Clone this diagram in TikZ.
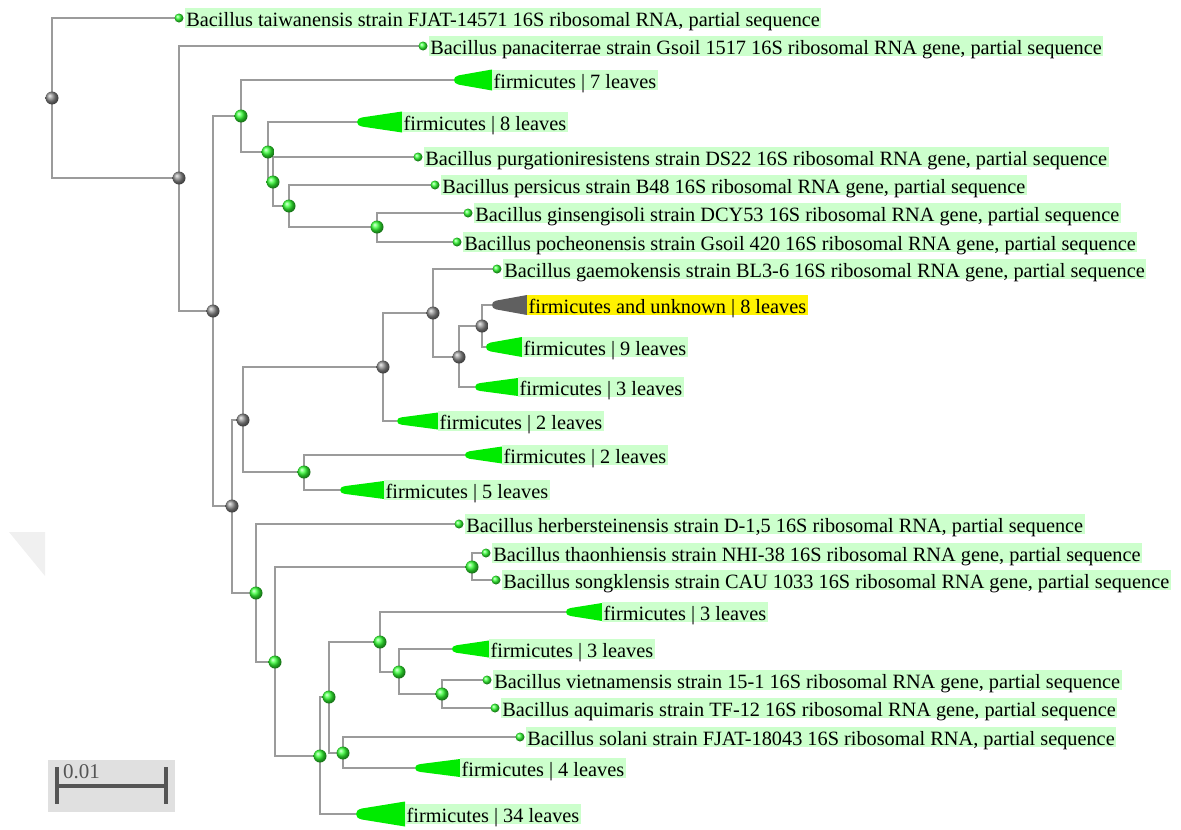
\documentclass[tikz,border=0pt]{standalone}
\usepackage{fontspec}
\setmainfont{Liberation Serif}
\usetikzlibrary{positioning, backgrounds}
\definecolor{branchgray}{RGB}{155,155,155}
\definecolor{cladegreen}{RGB}{0,235,0}
\definecolor{boxgreen}{RGB}{204,255,204}
\definecolor{unkgray}{RGB}{96,96,96}
\definecolor{scalegray}{RGB}{224,224,224}
\definecolor{bargray}{RGB}{85,85,85}
\definecolor{foldgray}{RGB}{240,240,240}
\tikzset{
x=1pt, y=-1pt, % one unit is one pixel, y grows downwards
branch/.style={draw=branchgray, line width=1.8pt}, % the lines of the tree
elbow/.style={to path={|- (\tikztotarget)}}, % down (or up) first, then across
split/.style={circle, inner sep=0pt, minimum size=13pt, shading=ball, ball color=green!80!white}, % green inner node
greysplit/.style={split, ball color=gray!90}, % grey inner node
tip/.style={circle, inner sep=0pt, minimum size=9pt, shading=ball, ball color=green!80!white}, % a single sequence
lab/.style={anchor=west, fill=boxgreen, inner xsep=1.5pt, inner ysep=2pt, text height=16pt, text depth=0pt, font=\fontsize{20.3}{24}\selectfont},
hilab/.style={lab, fill=yellow}, % the highlighted clade
pics/clade/.style n args={3}{code={
  \fill[#3] (0,0) .. controls (0,-0.12*#2) and (0.04*#1,-0.18*#2) .. (0.12*#1,-0.22*#2) -- (#1,-0.5*#2)
    -- (#1,0.5*#2) -- (0.12*#1,0.22*#2) .. controls (0.04*#1,0.18*#2) and (0,0.12*#2) .. cycle;}},
}

\begin{document}
\begin{tikzpicture}
  \useasboundingbox (0,0) rectangle (1181,830);
  \fill[foldgray] (9,532) -- (45,532) -- (45,576) -- cycle;

  % inner nodes
  \node[greysplit] (root) at (52,98) {};
  \node[greysplit] (n1) at (179,178) {};
  \node[greysplit] (n2) at (213,311) {};
  \node[split] (n3) at (241,116) {};
  \node[split] (n4) at (268,152) {};
  \node[split] (n5) at (273,182) {};
  \node[split] (n6) at (289,206) {};
  \node[split] (n7) at (377,227) {};
  \node[greysplit] (n8) at (232,506) {};
  \node[greysplit] (n9) at (243,420) {};
  \node[greysplit] (n10) at (383,367) {};
  \node[greysplit] (n11) at (433,313) {};
  \node[greysplit] (n12) at (459,357) {};
  \node[greysplit] (n13) at (482,326) {};
  \node[split] (n14) at (304,472) {};
  \node[split] (n15) at (256,593) {};
  \node[split] (n16) at (472,567) {};
  \node[split] (n17) at (275,662) {};
  \node[split] (n18) at (320,756) {};
  \node[split] (n19) at (329,697) {};
  \node[split] (n20) at (380,642) {};
  \node[split] (n21) at (399,672) {};
  \node[split] (n22) at (442,694) {};
  \node[split] (n23) at (343,753) {};

  % single sequences
  \node[tip] (taiw) at (179,18) {};
  \node[lab, right=1pt of taiw] {Bacillus taiwanensis strain FJAT-14571 16S ribosomal RNA, partial sequence};
  \node[tip] (pana) at (423,46) {};
  \node[lab, right=1pt of pana] {Bacillus panaciterrae strain Gsoil 1517 16S ribosomal RNA gene, partial sequence};
  \node[tip] (purg) at (418,157) {};
  \node[lab, right=1pt of purg] {Bacillus purgationiresistens strain DS22 16S ribosomal RNA gene, partial sequence};
  \node[tip] (pers) at (435,185) {};
  \node[lab, right=1pt of pers] {Bacillus persicus strain B48 16S ribosomal RNA gene, partial sequence};
  \node[tip] (gins) at (468,213) {};
  \node[lab, right=1pt of gins] {Bacillus ginsengisoli strain DCY53 16S ribosomal RNA gene, partial sequence};
  \node[tip] (poch) at (457,242) {};
  \node[lab, right=1pt of poch] {Bacillus pocheonensis strain Gsoil 420 16S ribosomal RNA gene, partial sequence};
  \node[tip] (gaem) at (497,269) {};
  \node[lab, right=1pt of gaem] {Bacillus gaemokensis strain BL3-6 16S ribosomal RNA gene, partial sequence};
  \node[tip] (herb) at (459,524) {};
  \node[lab, right=1pt of herb] {Bacillus herbersteinensis strain D-1,5 16S ribosomal RNA, partial sequence};
  \node[tip] (thao) at (486,553) {};
  \node[lab, right=1pt of thao] {Bacillus thaonhiensis strain NHI-38 16S ribosomal RNA gene, partial sequence};
  \node[tip] (song) at (496,580) {};
  \node[lab, right=1pt of song] {Bacillus songklensis strain CAU 1033 16S ribosomal RNA gene, partial sequence};
  \node[tip] (viet) at (487,680) {};
  \node[lab, right=1pt of viet] {Bacillus vietnamensis strain 15-1 16S ribosomal RNA gene, partial sequence};
  \node[tip] (aqui) at (495,708) {};
  \node[lab, right=1pt of aqui] {Bacillus aquimaris strain TF-12 16S ribosomal RNA gene, partial sequence};
  \node[tip] (sola) at (520,737) {};
  \node[lab, right=1pt of sola] {Bacillus solani strain FJAT-18043 16S ribosomal RNA, partial sequence};

  % collapsed clades
  \coordinate (c7) at (454,80);
  \pic at (c7) {clade={38}{21}{cladegreen}};
  \node[lab, right=38pt of c7] {firmicutes | 7 leaves};
  \coordinate (c8) at (357,122);
  \pic at (c8) {clade={45}{21}{cladegreen}};
  \node[lab, right=45pt of c8] {firmicutes | 8 leaves};
  \coordinate (cunk) at (492,305);
  \pic at (cunk) {clade={35}{20}{unkgray}};
  \node[hilab, right=35pt of cunk] {firmicutes and unknown | 8 leaves};
  \coordinate (c9) at (486,347);
  \pic at (c9) {clade={36}{20}{cladegreen}};
  \node[lab, right=36pt of c9] {firmicutes | 9 leaves};
  \coordinate (c3a) at (475,387);
  \pic at (c3a) {clade={43}{18}{cladegreen}};
  \node[lab, right=43pt of c3a] {firmicutes | 3 leaves};
  \coordinate (c2a) at (397,421);
  \pic at (c2a) {clade={41}{17}{cladegreen}};
  \node[lab, right=41pt of c2a] {firmicutes | 2 leaves};
  \coordinate (c2b) at (465,455);
  \pic at (c2b) {clade={37}{17}{cladegreen}};
  \node[lab, right=37pt of c2b] {firmicutes | 2 leaves};
  \coordinate (c5) at (340,490);
  \pic at (c5) {clade={44}{18}{cladegreen}};
  \node[lab, right=44pt of c5] {firmicutes | 5 leaves};
  \coordinate (c3b) at (566,612);
  \pic at (c3b) {clade={36}{18}{cladegreen}};
  \node[lab, right=36pt of c3b] {firmicutes | 3 leaves};
  \coordinate (c3c) at (452,649);
  \pic at (c3c) {clade={37}{17}{cladegreen}};
  \node[lab, right=37pt of c3c] {firmicutes | 3 leaves};
  \coordinate (c4) at (415,768);
  \pic at (c4) {clade={45}{18}{cladegreen}};
  \node[lab, right=45pt of c4] {firmicutes | 4 leaves};
  \coordinate (c34) at (356,814);
  \pic at (c34) {clade={49}{25}{cladegreen}};
  \node[lab, right=49pt of c34] {firmicutes | 34 leaves};

  % scale bar
  \fill[scalegray] (48,760) rectangle (175,812);
  \draw[bargray, line width=4pt] (57,767) -- (57,804) (166,767) -- (166,804) (57,786) -- (166,786);
  \node[font=\fontsize{21}{24}\selectfont, text=bargray, anchor=base west, inner sep=0pt] (scale) at (63,778) {0.01};

  \begin{scope}[on background layer]
    \draw[branch] (root.center) edge[elbow] (taiw.center)
    (root.center) edge[elbow] (n1.center)
    (n1.center) edge[elbow] (pana.center)
    (n1.center) edge[elbow] (n2.center)
    (n2.center) edge[elbow] (n3.center)
    (n2.center) edge[elbow] (n8.center)
    (n3.center) edge[elbow] (c7)
    (n3.center) edge[elbow] (n4.center)
    (n4.center) edge[elbow] (c8)
    (n4.center) edge[elbow] (n5.center)
    (n5.center) edge[elbow] (purg.center)
    (n5.center) edge[elbow] (n6.center)
    (n6.center) edge[elbow] (pers.center)
    (n6.center) edge[elbow] (n7.center)
    (n7.center) edge[elbow] (gins.center)
    (n7.center) edge[elbow] (poch.center)
    (n8.center) edge[elbow] (n9.center)
    (n8.center) edge[elbow] (n15.center)
    (n9.center) edge[elbow] (n10.center)
    (n9.center) edge[elbow] (n14.center)
    (n10.center) edge[elbow] (n11.center)
    (n10.center) edge[elbow] (c2a)
    (n11.center) edge[elbow] (gaem.center)
    (n11.center) edge[elbow] (n12.center)
    (n12.center) edge[elbow] (n13.center)
    (n12.center) edge[elbow] (c3a)
    (n13.center) edge[elbow] (cunk)
    (n13.center) edge[elbow] (c9)
    (n14.center) edge[elbow] (c2b)
    (n14.center) edge[elbow] (c5)
    (n15.center) edge[elbow] (herb.center)
    (n15.center) edge[elbow] (n17.center)
    (n17.center) edge[elbow] (n16.center)
    (n17.center) edge[elbow] (n18.center)
    (n16.center) edge[elbow] (thao.center)
    (n16.center) edge[elbow] (song.center)
    (n18.center) edge[elbow] (n19.center)
    (n18.center) edge[elbow] (c34)
    (n19.center) edge[elbow] (n20.center)
    (n19.center) edge[elbow] (n23.center)
    (n20.center) edge[elbow] (c3b)
    (n20.center) edge[elbow] (n21.center)
    (n21.center) edge[elbow] (c3c)
    (n21.center) edge[elbow] (n22.center)
    (n22.center) edge[elbow] (viet.center)
    (n22.center) edge[elbow] (aqui.center)
    (n23.center) edge[elbow] (sola.center)
    (n23.center) edge[elbow] (c4);
  \end{scope}
\end{tikzpicture}
\end{document}
